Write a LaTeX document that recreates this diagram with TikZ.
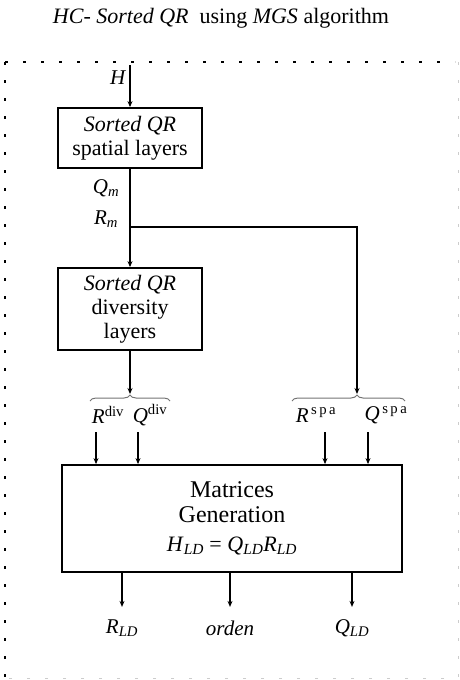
\documentclass[tikz,border=0pt]{standalone}
\usepackage{fontspec}
\setmainfont{Liberation Serif}
\usetikzlibrary{arrows.meta,decorations.pathreplacing}

\newcommand{\mvar}[2]{\textit{#1}\textsubscript{\textit{#2}}}
\newcommand{\svar}[2]{\textit{#1}\textsuperscript{#2}}

\begin{document}
\begin{tikzpicture}[x=1pt, y=-1pt,
        block/.style={draw, rectangle, line width=1.8pt, align=center, inner sep=2pt, font=\fontsize{22}{24}\selectfont},
        arrow/.style={-{Stealth[length=6pt,width=5pt]}, line width=1.6pt},
        lbl/.style={font=\fontsize{21}{23}\selectfont, inner sep=1pt},
        brace/.style={decorate, decoration={brace, amplitude=6pt, #1}, line width=1pt, black!55},
        brace/.default={aspect=0.5},
        frame/.style={line width=2.2pt, dash pattern=on 3pt off 15pt}
    ]
    \useasboundingbox (0,0) rectangle (460,680);

    % --- Title and frame ---
    \node[lbl, font=\fontsize{22}{24}\selectfont] (title) at (221,18) {\textit{HC- Sorted QR}\ \ using \textit{MGS} algorithm};
    \draw[frame] (5,62) -- (455,62);
    \draw[frame] (5,62) -- (5,680);
    \draw[frame, line width=1pt, black!20] (458,62) -- (458,678) -- (5,678);

    % --- Blocks ---
    \node[block, minimum width=144, minimum height=60] (spatial) at (130,138) {\textit{Sorted QR}\\spatial layers};
    \node[block, minimum width=144, minimum height=82] (diversity) at (130,309) {\textit{Sorted QR}\\diversity\\layers};
    \node[block, minimum width=340, minimum height=107, font=\fontsize{24}{25}\selectfont] (gen) at (232,518.5)
        {Matrices\\Generation\\[4pt]{\fontsize{22}{24}\selectfont\mvar{H}{LD} = \mvar{Q}{LD}\mvar{R}{LD}}};

    % --- Input and spatial outputs ---
    \coordinate (hin) at (130,65);
    \draw[arrow] (hin) -- node[lbl, left, pos=0.3, xshift=-2pt] (h) {\textit{H}} (spatial.north);
    \draw[arrow] (spatial.south) -- (diversity.north);
    \node[lbl] (qm) at (106,188) {\mvar{Q}{m}};
    \node[lbl] (rm) at (106,219) {\mvar{R}{m}};
    \coordinate (split) at (130,227);
    \coordinate (spatip) at (357,394);
    \draw[arrow] (split) -| (spatip);

    % --- Braces ---
    \coordinate (divtip) at (130,394);
    \draw[arrow] (diversity.south) -- (divtip);
    \draw[brace] (90,401) -- (170,401);
    \draw[brace={aspect=0.575}] (292,401) -- (405,401);
    \node[lbl] (rdiv) at (108,415) {\svar{R}{div}};
    \node[lbl] (qdiv) at (150,415) {\svar{Q}{div}};
    \node[lbl] (rspa) at (316,415) {\svar{R}{\,s\,p\,a}};
    \node[lbl] (qspa) at (386,415) {\svar{Q}{\,s\,p\,a}};

    % --- Into generation ---
    \foreach \xin [count=\i] in {96,138,325,368}
        \coordinate (in\i) at (\xin,432);
    \foreach \i in {1,...,4}
        \draw[arrow] (in\i) -- (in\i |- gen.north);

    % --- Outputs ---
    \node[lbl] (rld) at (122,628) {\mvar{R}{LD}};
    \node[lbl] (orden) at (230,628) {\textit{orden}};
    \node[lbl] (qld) at (352,628) {\mvar{Q}{LD}};
    \foreach \out in {rld,orden,qld}
        \draw[arrow] (\out |- gen.south) -- ++(0,34);

\end{tikzpicture}
\end{document}
